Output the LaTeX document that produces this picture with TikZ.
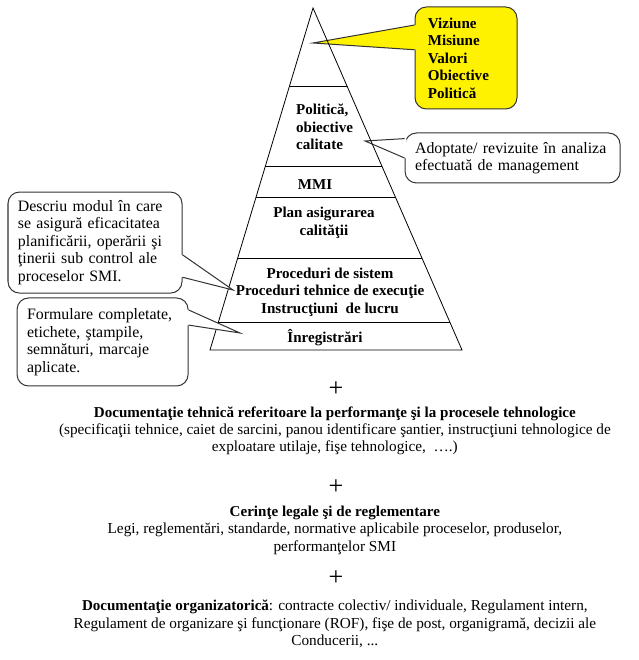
\documentclass[tikz,border=0pt]{standalone}
\usepackage{fontspec}
\setmainfont{Liberation Serif}
\usepackage{tikz}
\usetikzlibrary{positioning,calc}
\colorlet{visfill}{yellow}
\colorlet{notefill}{white}
\colorlet{notebrd}{black!80}
\colorlet{pyrbrd}{black}
\newcommand{\doctitle}[1]{{\fontsize{15}{17.4}\selectfont\bfseries #1}}

\begin{document}
\begin{tikzpicture}[
  every node/.style={font=\fontsize{15.2}{17.4}\selectfont, align=center},
  lvl/.style   ={font=\fontsize{15}{17.4}\selectfont\bfseries, inner sep=0pt},
  note/.style  ={draw=notebrd, fill=notefill, line width=1pt, rounded corners=0.4cm,
                 align=left, inner xsep=0.35cm, inner ysep=0pt,
                 font=\fontsize{15.8}{17.5}\selectfont},
  vis/.style   ={note, fill=visfill, inner xsep=0.45cm, font=\fontsize{15}{17.4}\selectfont\bfseries},
  tail/.style  ={draw=notebrd, line width=1pt, line join=miter},
  pyr/.style   ={draw=pyrbrd, line width=0.8pt},
  plus/.style  ={font=\fontsize{26}{26}\selectfont, inner sep=0pt},
  doc/.style   ={inner sep=0pt},
]
\useasboundingbox (0,0) rectangle (22.33,23.1);

%% ── Yellow note (top right) ──────────────────────────────────────────────
\node[vis, text width=2.67cm, minimum height=3.57cm] (vis) at (16.31,21.07)
  {Viziune\\Misiune\\Valori\\Obiective\\Politică};
\coordinate (vis_tip) at (10.955,21.595);
\coordinate (vis_a) at ($(vis.north west)!0.18!(vis.south west)$);
\coordinate (vis_b) at ($(vis.north west)!0.42!(vis.south west)$);
\fill[visfill] (vis_a) -- (vis_tip) -- (vis_b) -- ($(vis_b)+(0.06,0)$) -- ($(vis_a)+(0.06,0)$) -- cycle;
\draw[tail] (vis_a) -- (vis_tip) -- (vis_b);

%% ── Right note ───────────────────────────────────────────────────────────
\node[note, text width=6.825cm, minimum height=1.75cm] (adopt) at (17.94,17.57)
  {Adoptate/ revizuite în analiza\\efectuată de management};
\coordinate (adopt_tip) at (12.775,18.165);
\coordinate (adopt_a) at ($(adopt.north west)!0.12!(adopt.south west)$);
\coordinate (adopt_b) at ($(adopt.north west)!0.5!(adopt.south west)$);
\fill[notefill] (adopt_a) -- (adopt_tip) -- (adopt_b) -- ($(adopt_b)+(0.06,0)$) -- ($(adopt_a)+(0.06,0)$) -- cycle;
\draw[tail] (adopt_a) -- (adopt_tip) -- (adopt_b);

%% ════════════════════════════════════════════════════════════
%% PYRAMID
%% ════════════════════════════════════════════════════════════
\coordinate (apex) at (10.955,22.82);
\coordinate (bl)   at (7.35,10.85);
\coordinate (br)   at (16.17,10.85);
\draw[pyr] (apex) -- (bl) -- (br) -- cycle;
\foreach \t in {0.228,0.462,0.553,0.731,0.918}
  \draw[pyr] ($(apex)!\t!(bl)$) -- ($(apex)!\t!(br)$);

\node[lvl, align=left] (pol) at (11.36,18.655) {Politică,\\obiective\\calitate};
\node[lvl] (mmi)   at (11.03,16.625) {MMI};
\node[lvl] (plan)  at (11.34,15.295) {Plan asigurarea\\calităţii};
\node[lvl] (proc)  at (11.55,12.88)
  {Proceduri de sistem\\Proceduri tehnice de execuţie\\Instrucţiuni\ \ de lucru};
\node[lvl] (inreg) at (11.375,11.27) {Înregistrări};

%% ── Left notes ───────────────────────────────────────────────────────────
\node[note, text width=5.39cm, minimum height=3.535cm] (desc) at (3.325,14.61)
  {Descriu modul în care\\se asigură eficacitatea\\planificării, operării şi\\ţinerii sub control ale\\proceselor SMI.};
\coordinate (desc_tip) at (8.155,12.95);
\coordinate (desc_a) at ($(desc.north east)!0.62!(desc.south east)$);
\coordinate (desc_b) at ($(desc.north east)!0.84!(desc.south east)$);
\fill[notefill] (desc_a) -- (desc_tip) -- (desc_b) -- ($(desc_b)+(-0.06,0)$) -- ($(desc_a)+(-0.06,0)$) -- cycle;
\draw[tail] (desc_a) -- (desc_tip) -- (desc_b);

\node[note, text width=5.285cm, minimum height=3.08cm] (form) at (3.59,11.13)
  {Formulare completate,\\etichete, ştampile,\\semnături, marcaje\\aplicate.};
\coordinate (form_tip) at (8.4,11.445);
\coordinate (form_a) at ($(form.north east)!0.14!(form.south east)$);
\coordinate (form_b) at ($(form.north east)!0.31!(form.south east)$);
\fill[notefill] (form_a) -- (form_tip) -- (form_b) -- ($(form_b)+(-0.06,0)$) -- ($(form_a)+(-0.06,0)$) -- cycle;
\draw[tail] (form_a) -- (form_tip) -- (form_b);

%% ════════════════════════════════════════════════════════════
%% BELOW THE PYRAMID
%% ════════════════════════════════════════════════════════════
\node[plus] (plus1) at (11.76,9.485) {+};
\node[doc] (doctech) at (11.72,8.02)
  {\doctitle{Documentaţie tehnică referitoare la performanţe şi la procesele tehnologice}\\
   (specificaţii tehnice, caiet de sarcini, panou identificare şantier, instrucţiuni tehnologice de\\
   exploatare utilaje, fişe tehnologice,\ \ ….)};

\node[plus] (plus2) at (11.76,6.055) {+};
\node[doc] (cerinte) at (11.72,4.55)
  {\doctitle{Cerinţe legale şi de reglementare}\\
   Legi, reglementări, standarde, normative aplicabile proceselor, produselor,\\
   performanţelor SMI};

\node[plus] (plus3) at (11.76,2.87) {+};
\node[doc] (docorg) at (11.72,1.26)
  {\doctitle{Documentaţie organizatorică}: contracte colectiv/ individuale, Regulament intern,\\
   Regulament de organizare şi funcţionare (ROF), fişe de post, organigramă, decizii ale\\
   Conducerii, ...};

\end{tikzpicture}
\end{document}
